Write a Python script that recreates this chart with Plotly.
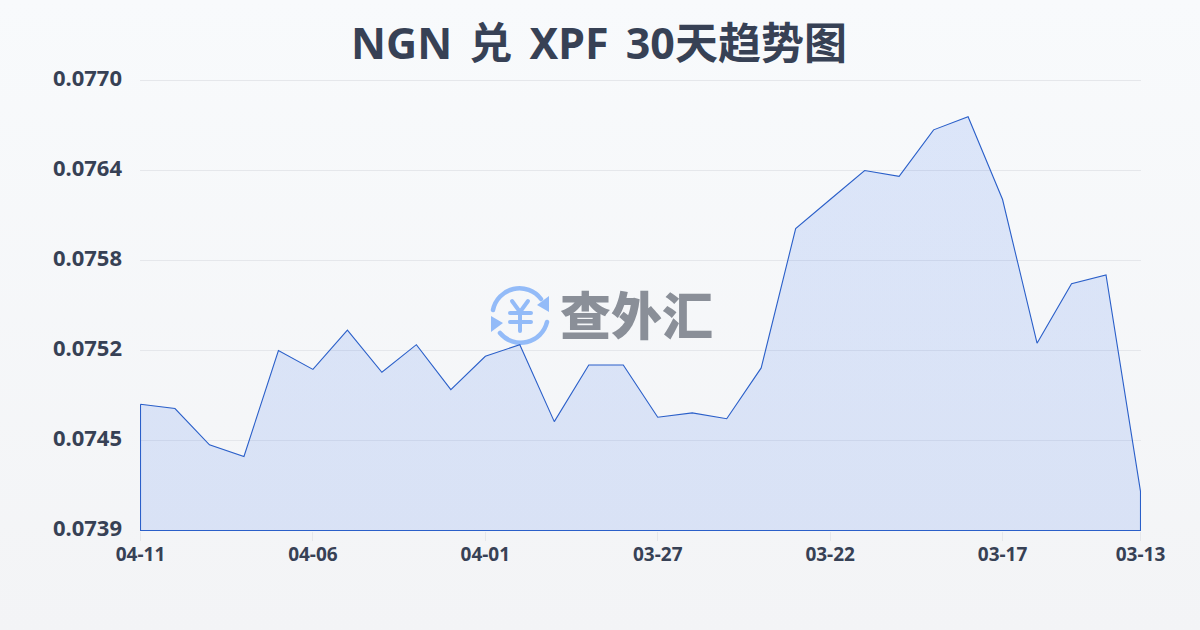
import urllib.parse
import plotly.graph_objects as go

dates = ["04-11","04-10","04-09","04-08","04-07","04-06","04-05","04-04","04-03","04-02",
         "04-01","03-31","03-30","03-29","03-28","03-27","03-26","03-25","03-24","03-23",
         "03-22","03-21","03-20","03-19","03-18","03-17","03-16","03-15","03-14","03-13"]
rates = [0.07477,0.07474,0.07449,0.07441,0.07514,0.07501,0.07528,0.07499,0.07518,0.07487,
         0.07510,0.07518,0.07465,0.07504,0.07504,0.07468,0.07471,0.07467,0.07502,0.07598,
         0.07618,0.07638,0.07634,0.07666,0.07675,0.07618,0.07519,0.07560,0.07566,0.07417]
x_ticks = ["04-11","04-06","04-01","03-27","03-22","03-17","03-13"]
y_ticks = [0.0739,0.07452,0.07514,0.07576,0.07638,0.0770]
y_labels = ["0.0739","0.0745","0.0752","0.0758","0.0764","0.0770"]
y_floor = 0.0739
y_range = [0.07389656, 0.07701033]
x_pad = 0.0145
title_parts = ["NGN", "兑", "XPF", "30天趋势图"]
brand = "查外汇"

FONT = "Noto Sans, Noto Sans CJK SC, sans-serif"
INK = "#374155"
M_L, M_R, M_T, M_B = 140, 59, 79, 99
PW, PH = 1200 - M_L - M_R, 630 - M_T - M_B


def px(x):
    return (x - M_L) / PW


def py(y):
    return (630 - M_B - y) / PH


bg_svg = ("<svg xmlns='http://www.w3.org/2000/svg' width='1200' height='630'>"
          "<defs><linearGradient id='g' x1='0' y1='0' x2='0' y2='1'>"
          "<stop offset='0' stop-color='#f8fafc'/><stop offset='1' stop-color='#f3f4f6'/>"
          "</linearGradient></defs><rect width='1200' height='630' fill='url(#g)'/></svg>")
logo_svg = ("<svg xmlns='http://www.w3.org/2000/svg' viewBox='0 0 60 60' width='60' height='60'>"
            "<g fill='none' stroke='#93bbf8' stroke-linecap='round' stroke-linejoin='round'>"
            "<path stroke-width='4.5' d='M3 24 A27 27 0 0 1 51 13'/><path stroke-width='4.5' d='M57 36 A27 27 0 0 1 10 47'/>"
            "<path stroke-width='4' d='M22 15 L30 26 L38 15 M20 27 H41 M20 36 H41 M30 26 V45'/>"
            "</g><g fill='#93bbf8'><path d='M59 10 L59 26 L47 19 Z'/><path d='M1 30 L1 46 L13 37 Z'/></g></svg>")


def uri(svg):
    return "data:image/svg+xml," + urllib.parse.quote(svg)


wide_space = '<span style="font-size:66px"> </span>'
title_html = "<b>" + wide_space.join(title_parts) + "</b>"

fig = go.Figure()
fig.add_trace(go.Scatter(
    x=dates + [dates[-1], dates[0], dates[0]],
    y=rates + [y_floor, y_floor, rates[0]],
    mode="lines",
    fill="toself",
    cliponaxis=False,
    line=dict(color="#2a5fc9", width=1.1),
    fillgradient=dict(type="vertical",
                      colorscale=[[0, "rgba(37,99,235,0.13)"], [1, "rgba(37,99,235,0.13)"]]),
    hoverinfo="skip",
    showlegend=False,
))
fig.update_layout(
    width=1200, height=630,
    margin=dict(l=M_L, r=M_R, t=M_T, b=M_B, pad=0),
    paper_bgcolor="rgba(0,0,0,0)",
    plot_bgcolor="rgba(0,0,0,0)",
    font=dict(family=FONT, color=INK),
    title=dict(text=title_html, x=599/1200, xanchor="center", y=0.93, yanchor="middle",
               font=dict(size=43, color=INK, family=FONT)),
    xaxis=dict(type="category", categoryorder="array", categoryarray=dates,
               range=[-x_pad, len(dates) - 1 + x_pad], tickmode="array", tickvals=x_ticks,
               ticktext=[f"<b>{t}</b>" for t in x_ticks],
               ticks="outside", ticklen=9, tickcolor="#e5e7eb", tickwidth=1,
               showgrid=False, zeroline=False, showline=False, ticklabelstandoff=-3,
               tickfont=dict(size=19, color=INK, family=FONT)),
    yaxis=dict(range=y_range, tickmode="array", tickvals=y_ticks,
               ticktext=[f"<b>{t}</b>" for t in y_labels],
               showgrid=True, gridcolor="#e5e7eb", gridwidth=1, zeroline=False, showline=False,
               ticks="", ticklabelstandoff=17, ticklabelshift=-2,
               tickfont=dict(size=22, color=INK, family=FONT)),
    images=[
        dict(source=uri(bg_svg), xref="paper", yref="paper", x=px(0), y=py(0),
             sizex=1200/PW, sizey=630/PH, xanchor="left", yanchor="top", sizing="stretch", layer="below"),
        dict(source=uri(logo_svg), xref="paper", yref="paper", x=px(490), y=py(286),
             sizex=60/PW, sizey=60/PH, xanchor="left", yanchor="top", sizing="stretch", layer="below"),
    ],
    annotations=[dict(text=brand, xref="paper", yref="paper",
                      x=px(636), y=py(313), xanchor="center", yanchor="middle",
                      showarrow=False, font=dict(size=51, color="#8a8f98", family="Noto Sans CJK SC", weight=900))],
)
fig.write_html("out.html", config=dict(displayModeBar=False),
               post_script="document.body.style.margin='0';document.documentElement.style.background='#f6f7f9';")
